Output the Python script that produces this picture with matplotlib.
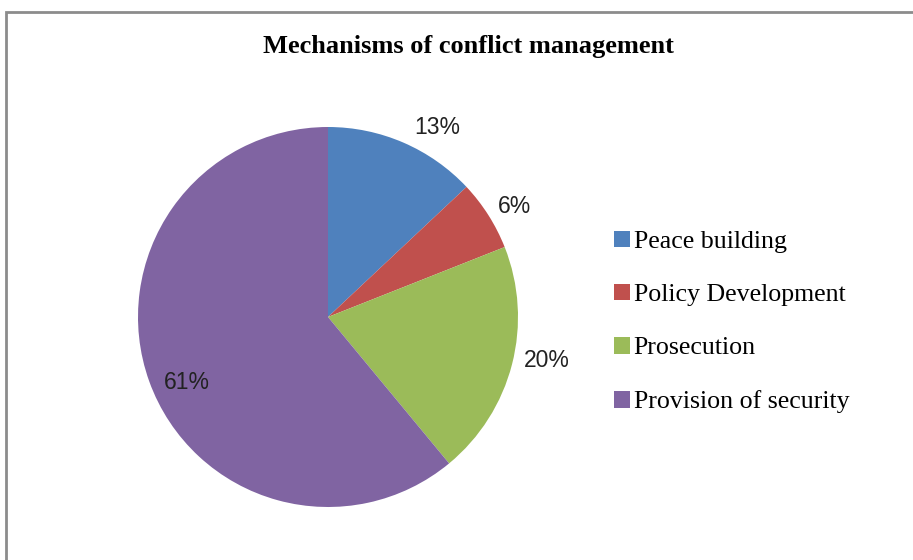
import matplotlib
matplotlib.use('Agg')
import matplotlib.pyplot as plt
import numpy as np
from matplotlib.patches import Rectangle

# Data
categories = ['Peace building', 'Policy Development', 'Prosecution', 'Provision of security']
shares = [13, 6, 20, 61]
pct_labels = ['13%', '6%', '20%', '61%']
colors = ['#4F81BD', '#C0504D', '#9BBB59', '#8064A2']

# label placement (radius factor, angle nudge in degrees)
label_r = [1.17, 1.15, 1.17, 0.81]
label_nudge = [-6, -1, 4, 4]

W, H = 913, 560
fig = plt.figure(figsize=(W / 100, H / 100), dpi=100)
fig.patch.set_facecolor('white')

# outer chart border (only top/left visible in the crop)
fig.patches.append(Rectangle((6 / W, -0.1), 1.2, (H - 12) / H + 0.1,
                             transform=fig.transFigure, fill=False,
                             edgecolor='#8c8c8c', linewidth=2))

# pie axes: centre (328, 317), radius 190 px
cx, cy, r = 328, 317, 190
ax = fig.add_axes([(cx - r) / W, (H - cy - r) / H, 2 * r / W, 2 * r / H])
wedges, _ = ax.pie(shares, colors=colors, startangle=90, counterclock=False,
                   radius=1.0, wedgeprops=dict(linewidth=0))
ax.set_xlim(-1, 1)
ax.set_ylim(-1, 1)
ax.set_aspect('equal')
ax.axis('off')

# percentage labels
cum = np.cumsum([0] + shares[:-1])
for i, s in enumerate(shares):
    mid = 90 - 360 * (cum[i] + s / 2) / sum(shares) + label_nudge[i]
    x = label_r[i] * np.cos(np.radians(mid))
    y = label_r[i] * np.sin(np.radians(mid))
    ax.text(x, y - 0.02, pct_labels[i], ha='center', va='center', fontsize=16.5,
            family='Liberation Sans', color='#222222', clip_on=False)

fig.text(468 / W, 1 - 47 / H, 'Mechanisms of conflict management',
         ha='center', va='center', fontsize=19, fontweight='bold',
         family='Liberation Serif')

leg = fig.legend(wedges, categories, loc='center left',
                 bbox_to_anchor=(604 / W, 1 - 322 / H), frameon=False,
                 prop={'family': 'Liberation Serif', 'size': 18.6},
                 handlelength=0.6, handleheight=0.6, handletextpad=0.15,
                 labelspacing=1.2, borderaxespad=0)

fig.savefig('out.png', dpi=100)
